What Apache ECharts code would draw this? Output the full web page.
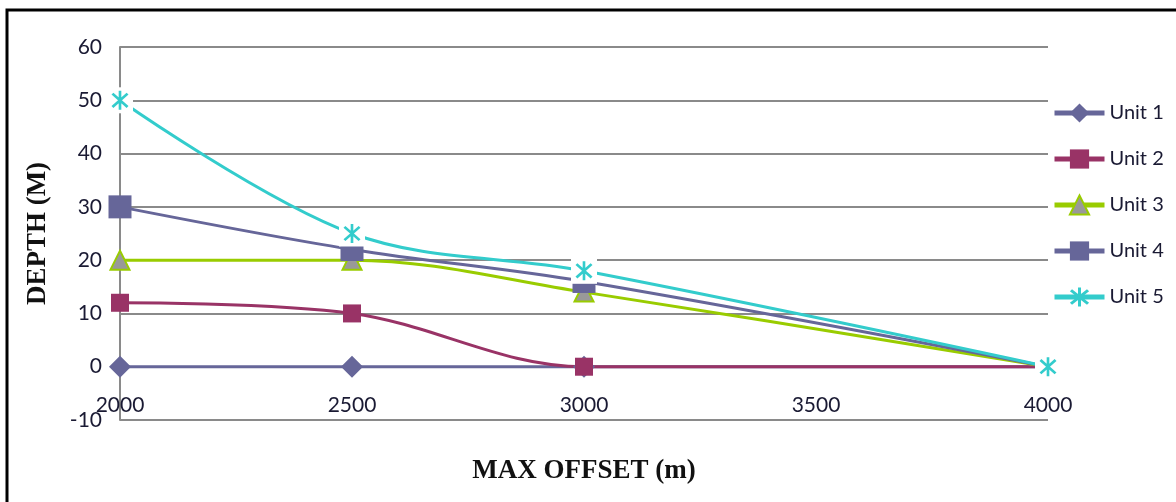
<!DOCTYPE html>
<html>
<head>
<meta charset="utf-8">
<script src="https://cdn.jsdelivr.net/npm/echarts@6/dist/echarts.min.js"></script>
<style>html,body{margin:0;padding:0;background:#fff;}#chart{width:1176px;height:502px;}</style>
</head>
<body>
<div id="chart"></div>
<script>
const offsets = [2000, 2500, 3000, 4000];
const unit1 = [0, 0, 0, 0];
const unit2 = [12, 10, 0, 0];
const unit3 = [20, 20, 14, 0];
const unit4 = [30, 22, 16, 0];
const unit5 = [50, 25, 18, 0];
const seriesNames = ['Unit 1', 'Unit 2', 'Unit 3', 'Unit 4', 'Unit 5'];
const xTicks = [2000, 2500, 3000, 3500, 4000];
const yTicks = [-10, 0, 10, 20, 30, 40, 50, 60];

const pairs = (ys) => offsets.map((x, i) => [x, ys[i]]);
const asterisk = 'path://M8.6,0H11.4V20H8.6Z M1,4L3,2L19,16L17,18Z M17,2L19,4L3,18L1,16Z';
const labelFont = 'Lato';
const chart = echarts.init(document.getElementById('chart'));

function lineSeries(name, ys, color, symbol, size, extra) {
  return Object.assign({
    name: name, type: 'line', data: pairs(ys), smooth: 0.35,
    symbol: symbol, symbolSize: size, showAllSymbol: true,
    lineStyle: { color: color, width: 3 },
    itemStyle: { color: color, opacity: 1 },
    emphasis: { disabled: true },
    animation: false
  }, extra || {});
}

chart.setOption({
  animation: false,
  graphic: [{
    type: 'rect', shape: { x: 7, y: 10, width: 1300, height: 700 },
    style: { fill: 'none', stroke: '#000', lineWidth: 3 }, z: 100, silent: true
  }],
  grid: { left: 120, right: 128, top: 47, bottom: 82 },
  legend: {
    data: seriesNames, orient: 'vertical', left: 1052, top: 101, padding: 0,
    itemWidth: 50, itemHeight: 24, itemGap: 22,
    textStyle: { fontFamily: labelFont, fontSize: 20, color: '#1a1a33', lineHeight: 24 },
    lineStyle: { width: 5 }
  },
  xAxis: {
    type: 'value', min: xTicks[0], max: xTicks[xTicks.length - 1], interval: 500,
    axisLine: { show: false }, axisTick: { show: false }, splitLine: { show: false },
    axisLabel: { fontFamily: labelFont, fontSize: 21, color: '#1a1a33', margin: -15, verticalAlign: 'middle',
      formatter: (v) => xTicks.includes(v) ? String(v) : '' },
    name: 'MAX OFFSET (m)', nameLocation: 'middle', nameGap: 38,
    nameTextStyle: { fontFamily: 'Liberation Serif', fontWeight: 'bold', fontSize: 27, color: '#111' }
  },
  yAxis: {
    type: 'value', min: yTicks[0], max: yTicks[yTicks.length - 1], interval: 10,
    axisLine: { show: true, lineStyle: { color: '#8a8a8a', width: 2 } },
    axisTick: { show: false },
    splitLine: { show: true, lineStyle: { color: '#8a8a8a', width: 2 } },
    axisLabel: { fontFamily: labelFont, fontSize: 21, color: '#1a1a33', margin: 18,
      formatter: (v) => yTicks.includes(v) ? String(v) : '' },
    name: 'DEPTH (M)', nameLocation: 'middle', nameGap: 68,
    nameTextStyle: { fontFamily: 'Liberation Serif', fontWeight: 'bold', fontSize: 27, color: '#111' }
  },
  series: [
    lineSeries('Unit 1', unit1, '#666699', 'diamond', 22),
    lineSeries('Unit 2', unit2, '#993366', 'rect', 18),
    lineSeries('Unit 3', unit3, '#99CC00', 'triangle', 19,
      { itemStyle: { color: '#999999', borderColor: '#99CC00', borderWidth: 2, opacity: 1 } }),
    lineSeries('Unit 4', unit4, '#666699', 'rect', 23),
    lineSeries('Unit 5', unit5, '#33CCCC', asterisk, [17, 19]),
    {
      name: 'mask', type: 'scatter', data: pairs(unit5), symbol: 'rect', symbolSize: 26,
      itemStyle: { color: '#ffffff', opacity: 1 }, z: 3, silent: true, animation: false,
      emphasis: { disabled: true }
    },
    {
      name: 'Unit 5 markers', type: 'scatter', data: pairs(unit5), symbol: asterisk, symbolSize: [17, 19],
      itemStyle: { color: '#33CCCC', opacity: 1 }, z: 4, silent: true, animation: false,
      emphasis: { disabled: true }
    }
  ]
});
</script>
</body>
</html>
